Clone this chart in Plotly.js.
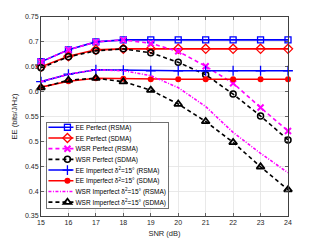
<!DOCTYPE html>
<html>
<head>
<meta charset="utf-8">
<script src="https://cdn.plot.ly/plotly-3.0.1.min.js"></script>
<style>html,body{margin:0;padding:0;background:#fff}#plot{width:319px;height:242px}</style>
</head>
<body>
<div id="plot"></div>
<script>
var snr = [15, 16, 17, 18, 19, 20, 21, 22, 23, 24];
var eePerfRSMA = [0.660, 0.684, 0.700, 0.704, 0.704, 0.704, 0.704, 0.704, 0.704, 0.704];
var eePerfSDMA = [0.650, 0.671, 0.684, 0.686, 0.686, 0.686, 0.686, 0.686, 0.686, 0.686];
var wsrPerfRSMA = [0.660, 0.684, 0.700, 0.704, 0.697, 0.681, 0.651, 0.617, 0.568, 0.521];
var wsrPerfSDMA = [0.648, 0.670, 0.682, 0.686, 0.678, 0.659, 0.634, 0.595, 0.551, 0.503];
var eeImpRSMA = [0.620, 0.635, 0.644, 0.643, 0.642, 0.642, 0.642, 0.642, 0.642, 0.642];
var eeImpSDMA = [0.609, 0.621, 0.627, 0.626, 0.625, 0.625, 0.625, 0.625, 0.625, 0.625];
var wsrImpRSMA = [0.620, 0.635, 0.644, 0.642, 0.632, 0.608, 0.570, 0.518, 0.476, 0.437];
var wsrImpSDMA = [0.608, 0.623, 0.627, 0.620, 0.603, 0.575, 0.540, 0.498, 0.449, 0.403];
var names = [
  'EE Perfect (RSMA)',
  'EE Perfect (SDMA)',
  'WSR Perfect (RSMA)',
  'WSR Perfect (SDMA)',
  'EE Imperfect \u03b4<sup>2</sup>=15\u00b0 (RSMA)',
  'EE Imperfect \u03b4<sup>2</sup>=15\u00b0 (SDMA)',
  'WSR Imperfect \u03b4<sup>2</sup>=15\u00b0 (RSMA)',
  'WSR Imperfect \u03b4<sup>2</sup>=15\u00b0 (SDMA)'
];
var BLUE = '#0000ff', RED = '#ff0000', MAG = '#ff00ff', BLK = '#000000';
var DASH = '4px,3px';
function tr(y, name, color, dash, symbol, msize, mlw, mode) {
  return {
    x: snr, y: y, name: name, type: 'scatter', mode: mode || 'lines+markers', cliponaxis: false,
    line: {color: color, width: 1.6, dash: dash},
    marker: {symbol: symbol, size: msize, color: color, line: {color: color, width: mlw}}
  };
}
var traces = [
  tr(eePerfRSMA, names[0], BLUE, 'solid', 'square-open', 6, 1.3),
  tr(eePerfSDMA, names[1], RED, 'solid', 'diamond-open', 7, 1.3),
  tr(wsrPerfRSMA, names[2], MAG, DASH, 'x-thin-open', 6, 2),
  tr(wsrPerfSDMA, names[3], BLK, DASH, 'circle-open', 6, 1.5),
  tr(eeImpRSMA, names[4], BLUE, 'solid', 'cross-thin-open', 7, 1.3),
  tr(eeImpSDMA, names[5], RED, 'solid', 'circle', 6, 0),
  tr(wsrImpRSMA, names[6], MAG, '3px,1.5px,1px,1.5px', 'circle', 1, 0, 'lines'),
  tr(wsrImpSDMA, names[7], BLK, DASH, 'triangle-up-open', 7, 1.8)
];
var axCommon = {
  showline: true, mirror: 'ticks', linecolor: '#404040', linewidth: 1,
  ticks: 'inside', ticklen: 3, tickcolor: '#404040', tickwidth: 0.8,
  gridcolor: '#e3e3e3', gridwidth: 0.8, zeroline: false,
  tickfont: {family: 'Liberation Sans, Arial, sans-serif', size: 7, color: '#262626'}
};
var layout = {
  width: 319, height: 242,
  margin: {l: 41, r: 31, t: 17, b: 26},
  paper_bgcolor: '#fff', plot_bgcolor: '#fff',
  font: {family: 'Liberation Sans, Arial, sans-serif', size: 7, color: '#262626'},
  xaxis: Object.assign({}, axCommon, {
    range: [15, 24], tick0: 15, dtick: 1,
    title: {text: 'SNR (dB)', font: {size: 7.5, color: '#262626'}, standoff: 5}
  }),
  yaxis: Object.assign({}, axCommon, {
    range: [0.35, 0.75], tick0: 0.35, dtick: 0.05,
    title: {text: 'EE (bits/J/Hz)', font: {size: 7.5, color: '#262626'}, standoff: 6}
  }),
  showlegend: true,
  legend: {
    x: 0.022, y: 0.47, xanchor: 'left', yanchor: 'top',
    bgcolor: '#ffffff', bordercolor: '#333333', borderwidth: 0.7,
    font: {family: 'Liberation Sans, Arial, sans-serif', size: 6.5, color: '#000'},
    itemwidth: 30, tracegroupgap: 0
  }
};
Plotly.newPlot('plot', traces, layout, {staticPlot: true, displayModeBar: false}).then(function (gd) {
  var leg = gd.querySelector('.legend');
  if (!leg) return;
  var items = leg.querySelectorAll('.traces');
  var step = 10.7, top = 4.8, maxW = 0;
  items.forEach(function (it, i) {
    it.setAttribute('transform', 'translate(1,' + (top + step * i) + ')');
    var t = it.querySelector('.legendtext');
    if (t) {
      t.setAttribute('x', 28);
      maxW = Math.max(maxW, 28 + t.getBBox().width);
    }
    it.querySelectorAll('.legendlines path').forEach(function (p) { p.setAttribute('d', 'M1,0h25'); });
    it.querySelectorAll('.legendsymbols .scatterpts path').forEach(function (p) {
      p.setAttribute('transform', 'translate(13.5,0)');
    });
  });
  var bg = leg.querySelector('rect.bg');
  if (bg) {
    bg.setAttribute('height', top + step * (items.length - 1) + 6);
    bg.setAttribute('width', maxW + 3);
  }
  leg.querySelectorAll('.scrollbar').forEach(function (s) { s.style.display = 'none'; });
  var fl = gd._fullLayout;
  var lx = fl._size.l + 0.022 * fl._size.w;
  var ly = fl._size.t + (1 - 0.47) * fl._size.h;
  leg.setAttribute('transform', 'translate(' + lx + ',' + ly + ')');
});
</script>
</body>
</html>
